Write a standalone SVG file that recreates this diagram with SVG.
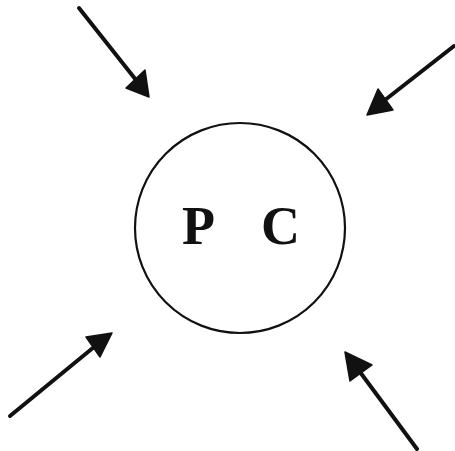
<svg xmlns="http://www.w3.org/2000/svg" width="455" height="451" viewBox="0 0 455 451">
<style>
.ln{stroke:#111;stroke-width:4;stroke-linecap:round;fill:none}
.hd{fill:#111;stroke:#111;stroke-width:1.5;stroke-linejoin:round}
.lbl{font-family:"Liberation Serif","Times New Roman",serif;font-size:54px;font-weight:bold;fill:#111}
</style>
<rect width="455" height="451" fill="#fff"/>
<g id="connectors">
<line class="ln" x1="79" y1="8" x2="136" y2="80"/>
<polygon class="hd" points="149,97 126,88 145,70"/>
<line class="ln" x1="454" y1="46" x2="385" y2="100"/>
<polygon class="hd" points="367,115 378,89 393,110"/>
<line class="ln" x1="10" y1="416" x2="94" y2="347"/>
<polygon class="hd" points="112,333 86,337 100,357"/>
<line class="ln" x1="417" y1="449" x2="360" y2="372"/>
<polygon class="hd" points="345,352 372,365 350,381"/>
</g>
<g id="pc">
<circle cx="240" cy="228" r="105" fill="none" stroke="#111" stroke-width="2.2"/>
<text class="lbl" x="182" y="244">P</text>
<text class="lbl" x="261" y="244">C</text>
</g>
</svg>
